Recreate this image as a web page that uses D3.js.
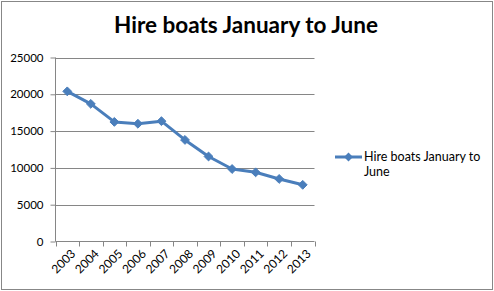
<!DOCTYPE html>
<html>
<head>
<meta charset="utf-8">
<script src="https://cdn.jsdelivr.net/npm/d3@7"></script>
<style>
  html, body { margin: 0; padding: 0; background: #fff; }
  svg { display: block; }
</style>
</head>
<body>
<div id="chart"></div>
<script>
const years = ["2003", "2004", "2005", "2006", "2007", "2008", "2009", "2010", "2011", "2012", "2013"];
const boats = [20400, 18700, 16250, 16000, 16350, 13800, 11550, 9850, 9400, 8500, 7700];
const yTicks = [0, 5000, 10000, 15000, 20000, 25000];
const seriesName = "Hire boats January to June";

const width = 494, height = 291;
const blue = "#4a7ebb";
const font = "Lato, 'Open Sans', sans-serif";

const svg = d3.select("#chart").append("svg")
  .attr("width", width)
  .attr("height", height);

// chart border
svg.append("rect")
  .attr("x", 1.5).attr("y", 1.5)
  .attr("width", width - 3).attr("height", height - 3)
  .attr("fill", "#fff")
  .attr("stroke", "#878787");

svg.append("text")
  .attr("x", 246).attr("y", 33)
  .attr("text-anchor", "middle")
  .attr("font-family", font)
  .attr("font-weight", "bold")
  .attr("font-size", 22.5)
  .attr("fill", "#000")
  .text(seriesName);

const x = d3.scaleBand().domain(years).range([55.5, 314.5]);
const y = d3.scaleLinear().domain([0, 25000]).range([241.5, 57.5]);

// gridlines
svg.append("g")
  .selectAll("line")
  .data(yTicks.filter(d => d > 0))
  .join("line")
  .attr("x1", 55.5).attr("x2", 314.5)
  .attr("y1", d => Math.round(y(d)) + 0.5)
  .attr("y2", d => Math.round(y(d)) + 0.5)
  .attr("stroke", "#868686");

// y axis
const yAxis = svg.append("g")
  .attr("transform", "translate(55.5,0)")
  .call(d3.axisLeft(y).tickValues(yTicks).tickSize(5).tickPadding(7).tickFormat(d3.format("d")));
yAxis.select(".domain").attr("stroke", "#868686").attr("d", `M0,${y(25000)}V${y(0)}`);
yAxis.selectAll(".tick line").attr("stroke", "#868686");
yAxis.selectAll("text").attr("font-family", font).attr("font-size", 11.5).attr("fill", "#000");

// x axis
const xAxis = svg.append("g")
  .attr("transform", `translate(0,${y(0)})`)
  .call(d3.axisBottom(x).tickSize(0).tickFormat(""));
xAxis.select(".domain").attr("stroke", "#868686").attr("d", `M55.5,0H314.5`);
xAxis.selectAll(".tick").remove();

// tick marks between categories
svg.append("g")
  .selectAll("line")
  .data(d3.range(years.length + 1))
  .join("line")
  .attr("x1", i => Math.round(55.5 + i * x.step()) + 0.5)
  .attr("x2", i => Math.round(55.5 + i * x.step()) + 0.5)
  .attr("y1", y(0)).attr("y2", y(0) + 5)
  .attr("stroke", "#868686");

svg.append("g")
  .selectAll("text")
  .data(years)
  .join("text")
  .attr("transform", d => `translate(${x(d) + x.bandwidth() / 2 + 6},${y(0) + 10}) rotate(-45)`)
  .attr("text-anchor", "end")
  .attr("dy", "0.35em")
  .attr("font-family", font)
  .attr("font-size", 12)
  .attr("fill", "#000")
  .text(d => d);

// series line
const px = (d, i) => x(years[i]) + x.bandwidth() / 2;
const line = d3.line().x(px).y(d => y(d));

svg.append("path")
  .datum(boats)
  .attr("d", line)
  .attr("fill", "none")
  .attr("stroke", blue)
  .attr("stroke-width", 3)
  .attr("stroke-linejoin", "round");

const diamond = d3.symbol().type(d3.symbolDiamond2).size(50);
svg.append("g")
  .selectAll("path")
  .data(boats)
  .join("path")
  .attr("transform", (d, i) => `translate(${px(d, i)},${y(d)})`)
  .attr("d", diamond)
  .attr("fill", blue)
  .attr("stroke", blue)
  .attr("stroke-width", 1);

// legend
const leg = svg.append("g");
leg.append("line")
  .attr("x1", 335).attr("x2", 362)
  .attr("y1", 157).attr("y2", 157)
  .attr("stroke", blue).attr("stroke-width", 3);
leg.append("path")
  .attr("transform", "translate(348.5,157)")
  .attr("d", diamond)
  .attr("fill", blue);
const words = seriesName.split(" ");
leg.append("text")
  .attr("x", 364).attr("y", 161)
  .attr("font-family", font).attr("font-size", 12.5).attr("fill", "#000")
  .text(words.slice(0, 4).join(" "));
leg.append("text")
  .attr("x", 364).attr("y", 176)
  .attr("font-family", font).attr("font-size", 12.5).attr("fill", "#000")
  .text(words.slice(4).join(" "));
</script>
</body>
</html>
